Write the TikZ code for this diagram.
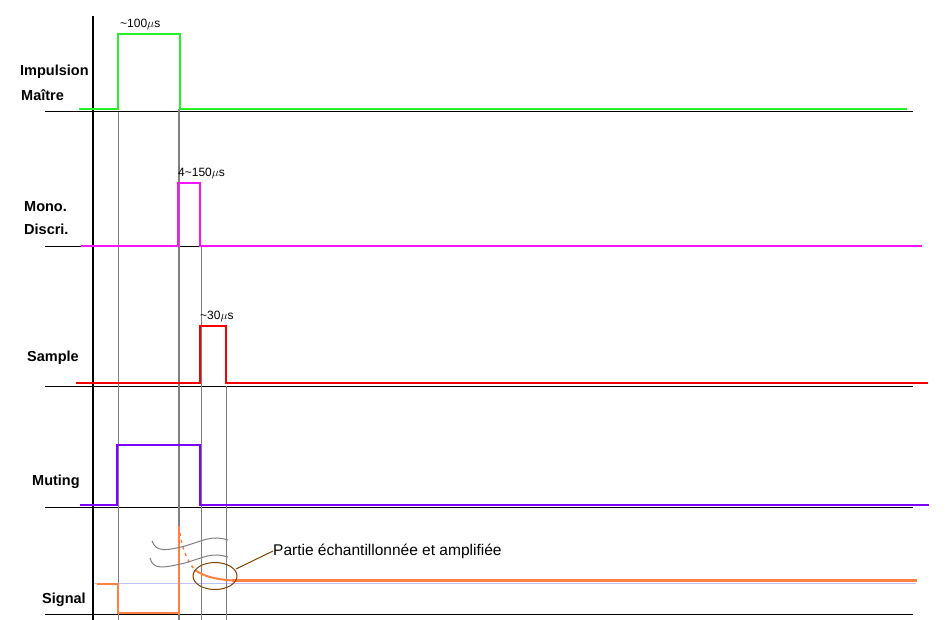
\documentclass[tikz,border=0pt]{standalone}
\usepackage{fontspec}
\setmainfont{Liberation Sans}
\begin{document}
\begin{tikzpicture}[x=1pt,y=-1pt,
  lbl/.style={font=\bfseries\fontsize{14.5}{16}\selectfont, anchor=west, inner sep=0pt},
  dur/.style={font=\fontsize{12}{14}\selectfont, anchor=south west, inner sep=0pt},
  base/.style={black, line width=1pt},
  guide/.style={gray, line width=1pt},
  sig/.style={line width=2.8pt, line join=miter}]
\definecolor{cgreen}{RGB}{40,240,40}
\definecolor{cmag}{RGB}{250,20,250}
\definecolor{cred}{RGB}{245,0,0}
\definecolor{cpurp}{RGB}{128,0,255}
\definecolor{corange}{RGB}{255,128,64}
\definecolor{cbrown}{RGB}{128,64,0}
\definecolor{clav}{RGB}{192,192,255}
\useasboundingbox[fill=white] (0,0) rectangle (947,620);

% baselines
\draw[base] (45,112) -- (913,112);
\draw[base] (45,247) -- (913,247);
\draw[base] (45,386) -- (913,386);
\draw[base] (45,507) -- (913,507);
\draw[base] (45,614) -- (913,614);
% light reference in signal
\draw[clav, line width=1pt] (93,583) -- (916,583);

% guide lines
\draw[guide] (118,112) -- (118,620);
\draw[guide, line width=2pt] (179,109) -- (179,620);
\draw[guide] (201,247) -- (201,620);
\draw[guide] (226,386) -- (226,620);

% axis
\draw[black, line width=2pt] (93,16) -- (93,620);

% signals
\draw[sig, cgreen] (79,109) -- (118,109) -- (118,34) -- (180,34) -- (180,109) -- (907,109);
\draw[sig, cmag] (81,246) -- (178,246) -- (178,183) -- (200,183) -- (200,246) -- (922,246);
\draw[sig, cred] (76,383) -- (200,383) -- (200,326) -- (226,326) -- (226,383) -- (928,383);
\draw[sig, cpurp] (80,505) -- (117,505) -- (117,445) -- (200,445) -- (200,505) -- (929,505);

% signal trace
\draw[corange, line width=1.5pt] (97,584) -- (118,584) -- (118,613) -- (179,613) -- (179,526);
\draw[corange, line width=1.5pt, dash pattern=on 3pt off 4pt] (179,526) .. controls (181,545) and (186,560) .. (195,570);
\draw[corange, line width=2pt] (195,570) .. controls (205,577) and (215,579) .. (232,580.5);
\draw[corange, line width=3pt] (232,580.5) -- (917,580.5);

% wavy gray lines
\draw[gray, line width=1pt] (152,541) .. controls (156,552) and (165,551) .. (185,546) .. controls (205,540) and (212,535) .. (228,540);
\draw[gray, line width=1pt] (150,558) .. controls (153,570) and (163,568) .. (185,563) .. controls (205,557) and (212,552) .. (228,557);

% ellipse and leader
\draw[cbrown, line width=1pt] (215,576) ellipse [x radius=22, y radius=13.5];
\coordinate (ellpt) at (236,569);
\node[font=\fontsize{15.5}{17}\selectfont, anchor=west, inner sep=0pt] (ann) at (273,551) {Partie échantillonnée et amplifiée};
\draw[cbrown, line width=1pt] (ellpt) -- (ann.west);

% labels
\node[lbl] (l1a) at (20,72) {Impulsion};
\node[lbl] (l1b) at (21,95) {Maître};
\node[lbl] (l2a) at (24,207) {Mono.};
\node[lbl] (l2b) at (24,229) {Discri.};
\node[lbl] (l3) at (27,358) {Sample};
\node[lbl] (l4) at (32,482) {Muting};
\node[lbl] (l5) at (42,600) {Signal};

% durations
\node[dur] (d1) at (120,30) {\textasciitilde100$\mu$s};
\node[dur] (d2) at (178,179) {4\textasciitilde150$\mu$s};
\node[dur] (d3) at (200,322) {\textasciitilde30$\mu$s};
\end{tikzpicture}
\end{document}
